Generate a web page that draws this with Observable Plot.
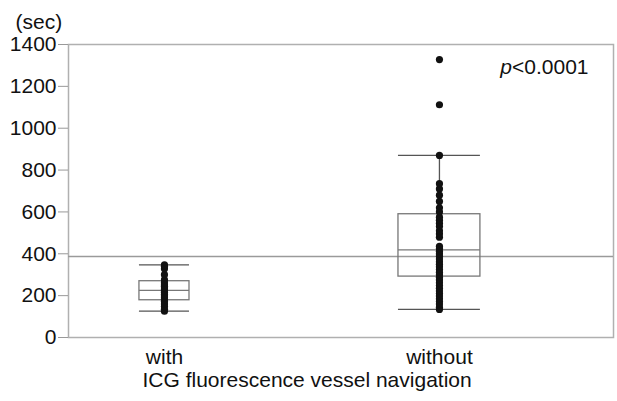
<!DOCTYPE html>
<html>
<head>
<meta charset="utf-8">
<script src="https://cdn.jsdelivr.net/npm/d3@7"></script>
<script src="https://cdn.jsdelivr.net/npm/@observablehq/plot@0.6"></script>
<style>
  html, body { margin: 0; padding: 0; background: #fff; }
</style>
</head>
<body>
<div id="chart"></div>
<script>
// ---- data ----
const groups = ["with", "without"];
const withTimes = [126, 135, 148, 160, 172, 180, 190, 198, 205, 215, 222, 228, 236, 245, 252, 262, 275, 300, 328, 340, 347];
const withoutTimes = [134, 145, 160, 172, 185, 198, 210, 222, 235, 248, 262, 275, 288, 300, 312, 325, 338, 350, 362, 375, 388, 400, 412, 425, 435,
  479, 495, 510, 530, 545, 560, 575, 600, 620, 650, 680, 710, 735, 870, 1112, 1328];
const whiskerLo = [126, 134];
const q1 = [178, 291];
const median = [225, 419];
const q3 = [269, 589];
const whiskerHi = [347, 870];
const overallMean = 387;
const yTicks = [0, 200, 400, 600, 800, 1000, 1200, 1400];
const yUnit = "(sec)";
const xTitle = "ICG fluorescence vessel navigation";
const pLabel = "<0.0001";

// ---- derived tables ----
const halfWidth = [0.091, 0.149]; // box half-widths in x units
const stats = groups.map((g, i) => ({
  i, lo: whiskerLo[i], q1: q1[i], med: median[i], q3: q3[i], hi: whiskerHi[i],
  x1: i - halfWidth[i], x2: i + halfWidth[i]
}));
const points = [
  ...withTimes.map(v => ({i: 0, v})),
  ...withoutTimes.map(v => ({i: 1, v}))
];

const FS = 21;
const chart = Plot.plot({
  width: 617,
  height: 401,
  marginLeft: 68,
  marginRight: 4,
  marginTop: 44,
  marginBottom: 64,
  style: {fontFamily: "'Liberation Sans', Arial, sans-serif", fontSize: FS + "px", color: "#111", background: "#fff"},
  x: {type: "linear", domain: [-0.349, 1.633]},
  y: {domain: [0, 1400]},
  marks: [
    Plot.frame({stroke: "#b0b0b0", strokeWidth: 1.5}),
    Plot.ruleY([overallMean], {stroke: "#9a9a9a", strokeWidth: 1.5}),
    // whiskers
    Plot.ruleX(stats, {x: "i", y1: "lo", y2: "q1", stroke: "#555", strokeWidth: 1.3}),
    Plot.ruleX(stats, {x: "i", y1: "q3", y2: "hi", stroke: "#555", strokeWidth: 1.3}),
    Plot.ruleY(stats, {y: "lo", x1: "x1", x2: "x2", stroke: "#555", strokeWidth: 1.3}),
    Plot.ruleY(stats, {y: "hi", x1: "x1", x2: "x2", stroke: "#555", strokeWidth: 1.3}),
    // box
    Plot.rect(stats, {x1: "x1", x2: "x2", y1: "q1", y2: "q3", fill: "none", stroke: "#777", strokeWidth: 1.3}),
    Plot.ruleY(stats, {y: "med", x1: "x1", x2: "x2", stroke: "#777", strokeWidth: 1.3}),
    // points
    Plot.dot(points, {x: "i", y: "v", r: 3.6, fill: "#111", stroke: "none"}),
    // axes
    Plot.axisY(yTicks, {tickSize: 10, tickPadding: 2, tickFormat: d => String(d), stroke: "#999", fill: "#111", fontSize: FS, label: null}),
    Plot.axisX([0, 1], {tickSize: 0, tickPadding: 12, tickFormat: i => groups[i], fill: "#111", fontSize: FS, label: null}),
    // annotations
    Plot.text([yUnit], {frameAnchor: "top-left", textAnchor: "start", dx: -53, dy: -30, fill: "#111", fontSize: FS}),
    Plot.text([xTitle], {frameAnchor: "bottom-left", textAnchor: "start", dx: 74, dy: 49, fill: "#111", fontSize: FS}),
    Plot.text([pLabel], {frameAnchor: "top-right", textAnchor: "end", dx: -25, dy: 15, fill: "#111", fontSize: FS}),
    Plot.text(["p"], {frameAnchor: "top-right", textAnchor: "end", dx: -101.5, dy: 15, fill: "#111", fontSize: FS, fontStyle: "italic"})
  ]
});
document.getElementById("chart").appendChild(chart);
</script>
</body>
</html>
